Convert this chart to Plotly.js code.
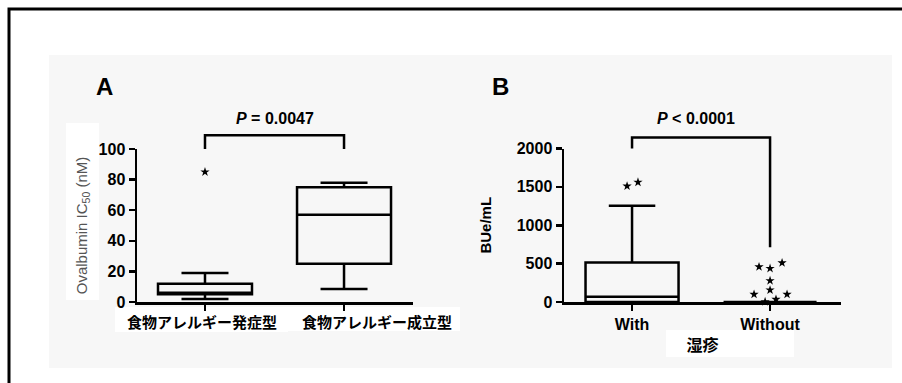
<!DOCTYPE html>
<html>
<head>
<meta charset="utf-8">
<script src="https://cdn.plot.ly/plotly-3.0.1.min.js"></script>
<style>html,body{margin:0;padding:0;background:#fff;}#chart{width:902px;height:383px;}</style>
</head>
<body>
<div id="chart"></div>
<script>
// ---------- DATA ----------
// Panel A: Ovalbumin IC50 (nM)
const categoriesA = ['食物アレルギー発症型', '食物アレルギー成立型'];
const lowerFenceA = [2, 8.5];
const q1A = [5, 25];
const medianA = [6, 57];
const q3A = [12, 75];
const upperFenceA = [19, 78];
const outlierGroupA = [0];
const outlierValuesA = [85];
const pTextA = 'P = 0.0047';

// Panel B: BUe/mL
const categoriesB = ['With', 'Without'];
const lowerFenceB = [0, 0];
const q1B = [0, 0];
const medianB = [70, 0];
const q3B = [515, 0];
const upperFenceB = [1255, 0];
const outlierGroupB = [0, 0, 1, 1, 1, 1, 1, 1, 1, 1, 1];
const outlierJitterB = [-0.036, 0.043, -0.08, 0.0, 0.087, 0.0, -0.116, 0.0, 0.123, -0.036, 0.043];
const outlierValuesB = [1510, 1560, 458, 437, 510, 277, 100, 156, 100, 4, 35];
const pTextB = 'P < 0.0001';
const groupTitleB = '湿疹';

// ---------- LAYOUT HELPERS ----------
const W = 902, H = 383;
const fx = p => p / W;            // pixel -> paper x
const fy = p => 1 - p / H;        // pixel -> paper y
const FONT = 'Liberation Sans, Arial, sans-serif';
const CJK = 'Noto Sans CJK JP, sans-serif';

const axA = {x0: 137, x1: 413, r0: -0.489, r1: 1.496, y0: 302, y1: 149, v0: 0, v1: 100};
const axB = {x0: 564, x1: 841, r0: -0.493, r1: 1.514, y0: 302, y1: 148.5, v0: 0, v1: 2000};
const toPx = (ax, v) => ax.x0 + (v - ax.r0) / (ax.r1 - ax.r0) * (ax.x1 - ax.x0);
const toPy = (ax, v) => ax.y0 + (v - ax.v0) / (ax.v1 - ax.v0) * (ax.y1 - ax.y0);

function bracket(ax, gL, gR, top, legL, legR) {
  const xl = fx(toPx(ax, gL)), xr = fx(toPx(ax, gR));
  return {type: 'path', xref: 'paper', yref: 'paper', layer: 'above',
    path: `M ${xl} ${fy(toPy(ax, legL))} L ${xl} ${fy(toPy(ax, top))} L ${xr} ${fy(toPy(ax, top))} L ${xr} ${fy(toPy(ax, legR))}`,
    line: {color: '#000', width: 2.5}};
}
function rect(x0, y0, x1, y1, color) {
  return {type: 'rect', xref: 'paper', yref: 'paper', layer: 'below',
    x0: fx(x0), x1: fx(x1), y0: fy(y1), y1: fy(y0), fillcolor: color, line: {width: 0}};
}

// ---------- TRACES ----------
const boxStyle = {
  type: 'box', width: 0.676, whiskerwidth: 0.5, boxpoints: false,
  line: {color: '#000', width: 2.5}, fillcolor: 'rgba(0,0,0,0)', hoverinfo: 'skip'
};
const starMarker = {symbol: 'star', size: 7, color: '#000'};
const traces = [
  Object.assign({}, boxStyle, {
    x: [0, 1], q1: q1A, median: medianA, q3: q3A,
    lowerfence: lowerFenceA, upperfence: upperFenceA, xaxis: 'x', yaxis: 'y'
  }),
  {type: 'scatter', mode: 'markers', x: outlierGroupA, y: outlierValuesA, xaxis: 'x', yaxis: 'y',
    marker: starMarker, cliponaxis: false, hoverinfo: 'skip'},
  Object.assign({}, boxStyle, {
    x: [0, 1], q1: q1B, median: medianB, q3: q3B, width: 0.674,
    lowerfence: lowerFenceB, upperfence: upperFenceB, xaxis: 'x2', yaxis: 'y2'
  }),
  {type: 'scatter', mode: 'markers',
    x: outlierGroupB.map((g, i) => g + outlierJitterB[i]), y: outlierValuesB, xaxis: 'x2', yaxis: 'y2',
    marker: starMarker, cliponaxis: false, hoverinfo: 'skip'}
];

// ---------- AXES ----------
const common = {
  showline: true, linecolor: '#000', linewidth: 2.5, ticks: 'outside', ticklen: 6, tickwidth: 2.5,
  tickcolor: '#000', showgrid: false, zeroline: false, fixedrange: true,
  tickfont: {family: FONT, size: 16, color: '#000', weight: 'bold'}
};
const layout = {
  width: W, height: H, margin: {l: 0, r: 0, t: 0, b: 0},
  paper_bgcolor: '#ffffff', plot_bgcolor: 'rgba(0,0,0,0)', showlegend: false,
  xaxis: Object.assign({}, common, {domain: [fx(axA.x0), fx(axA.x1)], range: [axA.r0, axA.r1],
    tickvals: [0, 1], showticklabels: false, anchor: 'y'}),
  yaxis: Object.assign({}, common, {domain: [fy(axA.y0), fy(axA.y1)], range: [axA.v0, axA.v1],
    tickvals: [0, 20, 40, 60, 80, 100], anchor: 'x',
    title: {text: 'Ovalbumin IC<sub>50</sub> (nM)', font: {family: FONT, size: 15, color: '#555'}, standoff: 8}}),
  xaxis2: Object.assign({}, common, {domain: [fx(axB.x0), fx(axB.x1)], range: [axB.r0, axB.r1],
    tickvals: [0, 1], ticktext: categoriesB, anchor: 'y2',
    tickfont: {family: FONT, size: 16, color: '#000', weight: 'bold'},
    title: {text: groupTitleB, font: {family: CJK, size: 16, color: '#000', weight: 'bold'}, standoff: 8}}),
  yaxis2: Object.assign({}, common, {domain: [fy(axB.y0), fy(axB.y1)], range: [axB.v0, axB.v1],
    tickvals: [0, 500, 1000, 1500, 2000], anchor: 'x2',
    title: {text: 'BUe/mL', font: {family: FONT, size: 15, color: '#000', weight: 'bold'}, standoff: 22}}),
  shapes: [
    rect(49, 55, 892, 368, '#f7f7f7'),
    rect(66, 123, 99, 300, '#ffffff'),
    rect(115, 307, 288, 332, '#ffffff'),
    rect(288, 307, 460, 331, '#ffffff'),
    rect(666, 330, 794, 357, '#ffffff'),
    bracket(axA, 0, 1, 109, 100, 100),
    bracket(axB, 0, 1, 2143, 2000, 714),
    {type: 'path', xref: 'paper', yref: 'paper', layer: 'above',
      path: `M ${fx(9)} 0 L ${fx(9)} ${fy(9)} L 1 ${fy(9)}`, line: {color: '#000', width: 3}}
  ],
  annotations: [
    {text: '<b>A</b>', xref: 'paper', yref: 'paper', x: fx(104), y: fy(86), xanchor: 'center', yanchor: 'middle',
      showarrow: false, font: {family: FONT, size: 24, color: '#000'}},
    {text: '<b>B</b>', xref: 'paper', yref: 'paper', x: fx(500), y: fy(86), xanchor: 'center', yanchor: 'middle',
      showarrow: false, font: {family: FONT, size: 24, color: '#000'}},
    {text: '<b><i>P</i>' + pTextA.slice(1) + '</b>', xref: 'x', yref: 'paper', x: 0.5, y: fy(118),
      xanchor: 'center', yanchor: 'middle', showarrow: false, font: {family: FONT, size: 16, color: '#000'}},
    {text: '<b><i>P</i>' + pTextB.slice(1) + '</b>', xref: 'x2', yref: 'paper', x: 0.46, y: fy(118),
      xanchor: 'center', yanchor: 'middle', showarrow: false, font: {family: FONT, size: 16, color: '#000'}},
    {text: categoriesA[0], xref: 'x', yref: 'paper', x: 0, xshift: -3, y: fy(321), xanchor: 'center', yanchor: 'middle',
      showarrow: false, font: {family: CJK, size: 15, color: '#000', weight: 'bold'}},
    {text: categoriesA[1], xref: 'x', yref: 'paper', x: 1, xshift: -44, y: fy(321), xanchor: 'left', yanchor: 'middle',
      showarrow: false, font: {family: CJK, size: 15, color: '#000', weight: 'bold'}}
  ]
};

Plotly.newPlot('chart', traces, layout, {displayModeBar: false, staticPlot: true});
</script>
</body>
</html>
